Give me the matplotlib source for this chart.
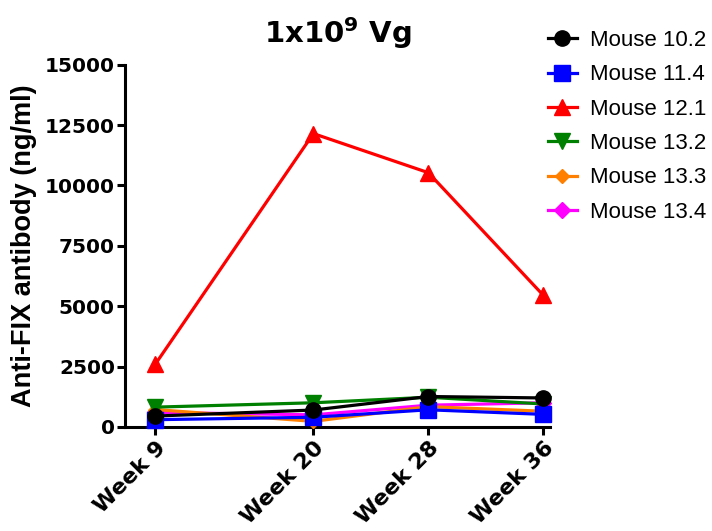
import matplotlib.pyplot as plt
import numpy as np

plt.rcParams['font.family'] = ['Liberation Sans', 'DejaVu Sans']
plt.rcParams['mathtext.fontset'] = 'dejavusans'

weeks = [9, 20, 28, 36]
week_labels = ["Week 9", "Week 20", "Week 28", "Week 36"]

mouse_10_2 = [450, 700, 1260, 1200]
mouse_11_4 = [300, 400, 710, 520]
mouse_12_1 = [2600, 12150, 10530, 5450]
mouse_13_2 = [820, 1000, 1230, 950]
mouse_13_3 = [720, 230, 840, 650]
mouse_13_4 = [600, 500, 900, 1000]

series = [
    ("Mouse 10.2", mouse_10_2, "black", "o", 11),
    ("Mouse 11.4", mouse_11_4, "#0000ff", "s", 11),
    ("Mouse 12.1", mouse_12_1, "#ff0000", "^", 12),
    ("Mouse 13.2", mouse_13_2, "#008000", "v", 12),
    ("Mouse 13.3", mouse_13_3, "#ff8000", "D", 7),
    ("Mouse 13.4", mouse_13_4, "#ff00ff", "D", 8),
]

bold_wide = ['DejaVu Sans']

fig = plt.figure(figsize=(7.12, 5.31), dpi=100)
ax = fig.add_axes([0.176, 0.196, 0.597, 0.682])

# later series go underneath earlier ones
for i, (name, vals, col, mk, ms) in enumerate(series):
    ax.plot(weeks, vals, color=col, marker=mk, markersize=ms, lw=2.3,
            label=name, zorder=10 - i, clip_on=False)

ax.set_xlim(6.91, 36.49)
ax.set_ylim(0, 15000)
ax.set_yticks([0, 2500, 5000, 7500, 10000, 12500, 15000])
ax.set_xticks(weeks)
ax.set_xticklabels(week_labels, rotation=45, ha='right', rotation_mode='anchor',
                   fontsize=16, fontweight='bold', family=bold_wide)
for lab in ax.get_yticklabels():
    lab.set_fontsize(14.5)
    lab.set_fontweight('bold')
    lab.set_family(bold_wide)

for s in ['top', 'right']:
    ax.spines[s].set_visible(False)
for s in ['left', 'bottom']:
    ax.spines[s].set_linewidth(2.2)
ax.tick_params(width=2.2, length=5.5, direction='out', pad=2)

ax.set_ylabel("Anti-FIX antibody (ng/ml)", fontsize=19.5, fontweight='bold', labelpad=6)
ax.set_title(r"1x10$^{\mathbf{9}}$ Vg", fontsize=21, fontweight='bold',
             family=bold_wide, pad=16)

ax.legend(loc='upper left', bbox_to_anchor=(548 / 712, 1 - 30 / 531),
          bbox_transform=fig.transFigure, frameon=False, borderaxespad=0,
          borderpad=0, fontsize=16, labelspacing=0.6, handlelength=1.3,
          handletextpad=0.6)

fig.savefig("out.png", dpi=100)
